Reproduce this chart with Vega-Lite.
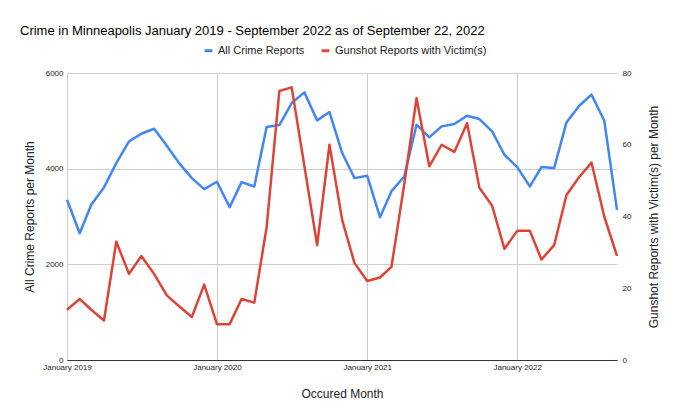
{
  "$schema": "https://vega.github.io/schema/vega-lite/v6.json",
  "width": 550,
  "height": 287,
  "autosize": "none",
  "padding": {"left": 67, "top": 73, "right": 63, "bottom": 58},
  "background": "white",
  "title": {
    "text": "Crime in Minneapolis January 2019 - September 2022 as of September 22, 2022",
    "anchor": "start",
    "frame": "group",
    "dx": -47,
    "offset": 7,
    "font": "Liberation Sans",
    "fontSize": 13,
    "fontWeight": "normal",
    "color": "#000000"
  },
  "config": {
    "view": {"stroke": null},
    "font": "Liberation Sans"
  },
  "data": {
    "values": [
      {"month": "2019-01-01", "crime": 3349, "gunshot": 14},
      {"month": "2019-02-01", "crime": 2651, "gunshot": 17},
      {"month": "2019-03-01", "crime": 3244, "gunshot": 14},
      {"month": "2019-04-01", "crime": 3607, "gunshot": 11},
      {"month": "2019-05-01", "crime": 4116, "gunshot": 33},
      {"month": "2019-06-01", "crime": 4570, "gunshot": 24},
      {"month": "2019-07-01", "crime": 4730, "gunshot": 29},
      {"month": "2019-08-01", "crime": 4835, "gunshot": 24},
      {"month": "2019-09-01", "crime": 4479, "gunshot": 18},
      {"month": "2019-10-01", "crime": 4116, "gunshot": 15},
      {"month": "2019-11-01", "crime": 3802, "gunshot": 12},
      {"month": "2019-12-01", "crime": 3572, "gunshot": 21},
      {"month": "2020-01-01", "crime": 3726, "gunshot": 10},
      {"month": "2020-02-01", "crime": 3195, "gunshot": 10},
      {"month": "2020-03-01", "crime": 3719, "gunshot": 17},
      {"month": "2020-04-01", "crime": 3628, "gunshot": 16},
      {"month": "2020-05-01", "crime": 4870, "gunshot": 37},
      {"month": "2020-06-01", "crime": 4912, "gunshot": 75},
      {"month": "2020-07-01", "crime": 5372, "gunshot": 76},
      {"month": "2020-08-01", "crime": 5595, "gunshot": 54},
      {"month": "2020-09-01", "crime": 5009, "gunshot": 32},
      {"month": "2020-10-01", "crime": 5184, "gunshot": 60},
      {"month": "2020-11-01", "crime": 4326, "gunshot": 39},
      {"month": "2020-12-01", "crime": 3802, "gunshot": 27},
      {"month": "2021-01-01", "crime": 3851, "gunshot": 22},
      {"month": "2021-02-01", "crime": 2986, "gunshot": 23},
      {"month": "2021-03-01", "crime": 3530, "gunshot": 26},
      {"month": "2021-04-01", "crime": 3837, "gunshot": 49},
      {"month": "2021-05-01", "crime": 4919, "gunshot": 73},
      {"month": "2021-06-01", "crime": 4654, "gunshot": 54},
      {"month": "2021-07-01", "crime": 4884, "gunshot": 60},
      {"month": "2021-08-01", "crime": 4933, "gunshot": 58},
      {"month": "2021-09-01", "crime": 5107, "gunshot": 66},
      {"month": "2021-10-01", "crime": 5037, "gunshot": 48},
      {"month": "2021-11-01", "crime": 4779, "gunshot": 43},
      {"month": "2021-12-01", "crime": 4291, "gunshot": 31},
      {"month": "2022-01-01", "crime": 4033, "gunshot": 36},
      {"month": "2022-02-01", "crime": 3628, "gunshot": 36},
      {"month": "2022-03-01", "crime": 4033, "gunshot": 28},
      {"month": "2022-04-01", "crime": 4012, "gunshot": 32},
      {"month": "2022-05-01", "crime": 4967, "gunshot": 46},
      {"month": "2022-06-01", "crime": 5316, "gunshot": 51},
      {"month": "2022-07-01", "crime": 5547, "gunshot": 55},
      {"month": "2022-08-01", "crime": 5002, "gunshot": 40},
      {"month": "2022-09-01", "crime": 3140, "gunshot": 29}
    ]
  },
  "encoding": {
    "x": {
      "field": "month",
      "type": "temporal",
      "scale": {
        "type": "utc",
        "domain": [
          {"year": 2019, "month": 1, "date": 1, "utc": true},
          {"year": 2022, "month": 9, "date": 1, "utc": true}
        ]
      },
      "axis": {
        "title": "Occured Month",
        "values": [
          {"year": 2019, "month": 1, "date": 1, "utc": true},
          {"year": 2020, "month": 1, "date": 1, "utc": true},
          {"year": 2021, "month": 1, "date": 1, "utc": true},
          {"year": 2022, "month": 1, "date": 1, "utc": true}
        ],
        "labelExpr": "utcFormat(datum.value, '%B %Y')",
        "labelFont": "Liberation Sans",
        "labelFontSize": 8,
        "labelColor": "#222222",
        "labelPadding": 3,
        "labelFlush": false,
        "labelOverlap": false,
        "ticks": false,
        "domain": true,
        "domainColor": "#333333",
        "domainWidth": 1,
        "grid": true,
        "gridColor": "#cccccc",
        "gridWidth": 1,
        "titleFont": "Liberation Sans",
        "titleFontSize": 12,
        "titleFontWeight": "normal",
        "titleColor": "#222222",
        "titleX": 275,
        "titleY": 33,
        "titleAlign": "center",
        "titleBaseline": "middle"
      }
    }
  },
  "layer": [
    {
      "mark": {"type": "line", "color": "#4285F4", "strokeWidth": 2.5, "strokeJoin": "round"},
      "encoding": {
        "y": {
          "field": "crime",
          "type": "quantitative",
          "scale": {"domain": [0, 6000], "nice": false},
          "axis": {
            "title": "All Crime Reports per Month",
            "orient": "left",
            "values": [0, 2000, 4000, 6000],
            "format": "d",
            "labelFont": "Liberation Sans",
            "labelFontSize": 8,
            "labelColor": "#222222",
            "labelPadding": 4,
            "ticks": false,
            "domain": false,
            "grid": true,
            "gridColor": "#cccccc",
            "gridWidth": 1,
            "titleFont": "Liberation Sans",
            "titleFontSize": 12,
            "titleFontWeight": "normal",
            "titleColor": "#222222",
            "titleAngle": -90,
            "titleX": -38,
            "titleY": 143.5,
            "titleAlign": "center",
            "titleBaseline": "middle"
          }
        },
        "color": {
          "datum": "All Crime Reports",
          "type": "nominal",
          "scale": {
            "domain": ["All Crime Reports", "Gunshot Reports with Victim(s)"],
            "range": ["#4285F4", "#DB4437"]
          },
          "legend": {
            "title": null,
            "orient": "none",
            "direction": "horizontal",
            "legendX": 136,
            "legendY": -28,
            "symbolType": "stroke",
            "symbolStrokeWidth": 3,
            "symbolSize": 60,
            "labelFont": "Liberation Sans",
            "labelFontSize": 11,
            "labelColor": "#222222",
            "columnPadding": 10,
            "labelOffset": 4
          }
        }
      }
    },
    {
      "mark": {"type": "line", "color": "#DB4437", "strokeWidth": 2.5, "strokeJoin": "round"},
      "encoding": {
        "y": {
          "field": "gunshot",
          "type": "quantitative",
          "scale": {"domain": [0, 80], "nice": false},
          "axis": {
            "title": "Gunshot Reports with Victim(s) per Month",
            "orient": "right",
            "values": [0, 20, 40, 60, 80],
            "format": "d",
            "labelFont": "Liberation Sans",
            "labelFontSize": 8,
            "labelColor": "#222222",
            "labelPadding": 5,
            "ticks": false,
            "domain": false,
            "grid": false,
            "titleFont": "Liberation Sans",
            "titleFontSize": 12,
            "titleFontWeight": "normal",
            "titleColor": "#222222",
            "titleAngle": -90,
            "titleX": 36,
            "titleY": 143.5,
            "titleAlign": "center",
            "titleBaseline": "middle"
          }
        },
        "color": {
          "datum": "Gunshot Reports with Victim(s)",
          "type": "nominal"
        }
      }
    }
  ],
  "resolve": {"scale": {"y": "independent"}}
}
